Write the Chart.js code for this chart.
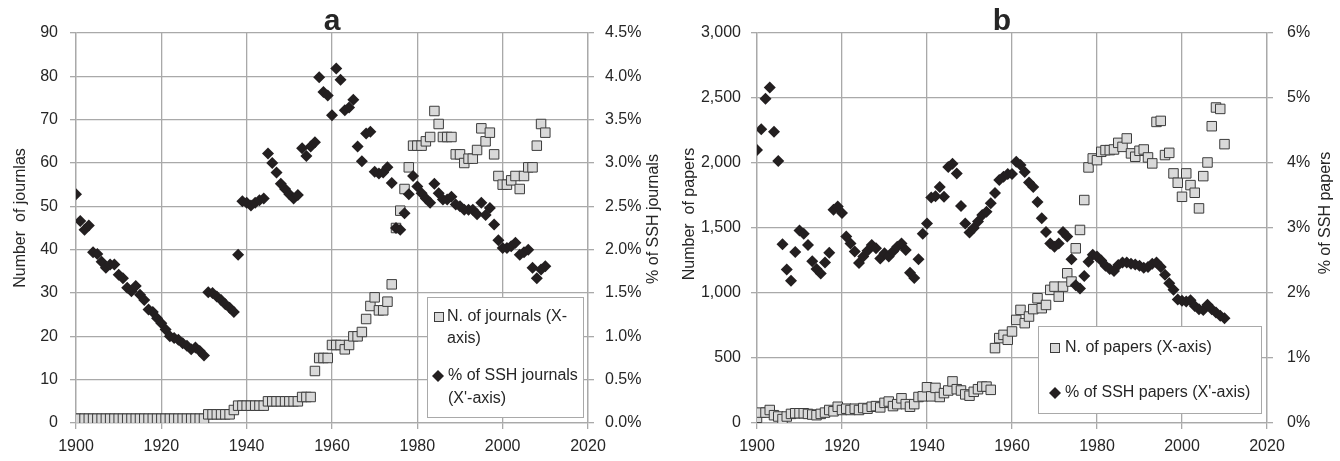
<!DOCTYPE html>
<html>
<head>
<meta charset="utf-8">
<script src="https://cdn.jsdelivr.net/npm/chart.js@4.4.0/dist/chart.umd.min.js"></script>
<style>
  html, body { margin: 0; padding: 0; background: #fff; }
  .panel { position: absolute; top: 0; width: 670px; height: 461px; }
</style>
</head>
<body>
<div class="panel" style="left:0"><canvas id="chartA" width="670" height="461"></canvas></div>
<div class="panel" style="left:670px"><canvas id="chartB" width="670" height="461"></canvas></div>
<script>
const years = [
  1900, 1901, 1902, 1903, 1904, 1905, 1906, 1907, 1908, 1909,
  1910, 1911, 1912, 1913, 1914, 1915, 1916, 1917, 1918, 1919,
  1920, 1921, 1922, 1923, 1924, 1925, 1926, 1927, 1928, 1929,
  1930, 1931, 1932, 1933, 1934, 1935, 1936, 1937, 1938, 1939,
  1940, 1941, 1942, 1943, 1944, 1945, 1946, 1947, 1948, 1949,
  1950, 1951, 1952, 1953, 1954, 1955, 1956, 1957, 1958, 1959,
  1960, 1961, 1962, 1963, 1964, 1965, 1966, 1967, 1968, 1969,
  1970, 1971, 1972, 1973, 1974, 1975, 1976, 1977, 1978, 1979,
  1980, 1981, 1982, 1983, 1984, 1985, 1986, 1987, 1988, 1989,
  1990, 1991, 1992, 1993, 1994, 1995, 1996, 1997, 1998, 1999,
  2000, 2001, 2002, 2003, 2004, 2005, 2006, 2007, 2008, 2009,
  2010
];

// panel a: number of journals (left axis) and % of SSH journals (right axis)
const journals = [
  1, 1, 1, 1, 1, 1, 1, 1, 1, 1,
  1, 1, 1, 1, 1, 1, 1, 1, 1, 1,
  1, 1, 1, 1, 1, 1, 1, 1, 1, 1,
  1, 2, 2, 2, 2, 2, 2, 3, 4, 4,
  4, 4, 4, 4, 4, 5, 5, 5, 5, 5,
  5, 5, 5, 6, 6, 6, 12, 15, 15, 15,
  18, 18, 18, 17, 18, 20, 20, 21, 24, 27,
  29, 26, 26, 28, 32, 45, 49, 54, 59, 64,
  64, 64, 65, 66, 72, 69, 66, 66, 66, 62,
  62, 60, 61, 61, 63, 68, 65, 67, 62, 57,
  55, 55, 56, 57, 54, 57, 59, 59, 64, 69,
  67
];
const journalsShare = [
  2.64, 2.33, 2.23, 2.28, 1.97, 1.95, 1.86, 1.79, 1.83, 1.83,
  1.71, 1.67, 1.56, 1.52, 1.58, 1.48, 1.42, 1.31, 1.28, 1.21,
  1.15, 1.08, 1.00, 0.98, 0.96, 0.92, 0.89, 0.85, 0.87, 0.83,
  0.78, 1.51, 1.50, 1.46, 1.42, 1.37, 1.33, 1.28, 1.94, 2.56,
  2.54, 2.51, 2.54, 2.57, 2.59, 3.11, 3.00, 2.89, 2.76, 2.70,
  2.64, 2.59, 2.63, 3.17, 3.08, 3.19, 3.24, 3.99, 3.82, 3.78,
  3.55, 4.09, 3.96, 3.61, 3.64, 3.73, 3.19, 3.02, 3.34, 3.36,
  2.90, 2.88, 2.89, 2.95, 2.77, 2.25, 2.23, 2.42, 2.64, 2.85,
  2.73, 2.65, 2.59, 2.54, 2.76, 2.65, 2.58, 2.58, 2.61, 2.52,
  2.50, 2.46, 2.46, 2.46, 2.41, 2.54, 2.40, 2.48, 2.29, 2.11,
  2.02, 2.02, 2.04, 2.08, 1.94, 1.97, 2.00, 1.79, 1.67, 1.77,
  1.81
];

// panel b: number of papers (left axis) and % of SSH papers (right axis)
const papers = [
  40, 80, 80, 100, 60, 50, 30, 50, 70, 75,
  75, 75, 70, 65, 60, 70, 80, 100, 90, 125,
  100, 110, 100, 110, 100, 115, 110, 125, 130, 120,
  155, 165, 130, 145, 190, 145, 125, 145, 200, 205,
  275, 205, 270, 200, 230, 250, 320, 260, 250, 220,
  210, 240, 260, 280, 280, 255, 576, 653, 678, 640,
  704, 793, 870, 768, 819, 876, 960, 883, 908, 1024,
  1049, 972, 1049, 1152, 1088, 1344, 1485, 1715, 1966, 2035,
  2022, 2086, 2099, 2099, 2104, 2155, 2124, 2189, 2074, 2048,
  2094, 2104, 2043, 1997, 2316, 2324, 2061, 2078, 1920, 1848,
  1740, 1920, 1830, 1771, 1651, 1899, 2004, 2283, 2427, 2416,
  2145
];
const papersShare = [
  4.20, 4.52, 4.99, 5.16, 4.48, 4.03, 2.75, 2.36, 2.19, 2.63,
  2.96, 2.91, 2.74, 2.49, 2.37, 2.30, 2.47, 2.62, 3.28, 3.33,
  3.23, 2.87, 2.76, 2.64, 2.46, 2.56, 2.65, 2.74, 2.69, 2.53,
  2.61, 2.56, 2.64, 2.71, 2.76, 2.66, 2.31, 2.23, 2.52, 2.91,
  3.07, 3.47, 3.49, 3.63, 3.48, 3.94, 3.99, 3.84, 3.34, 3.07,
  2.93, 3.00, 3.10, 3.20, 3.25, 3.38, 3.54, 3.74, 3.79, 3.83,
  3.83, 4.02, 3.97, 3.86, 3.70, 3.63, 3.40, 3.15, 2.94, 2.76,
  2.71, 2.76, 2.94, 2.87, 2.52, 2.12, 2.07, 2.26, 2.48, 2.59,
  2.56, 2.50, 2.42, 2.37, 2.34, 2.43, 2.47, 2.47, 2.45, 2.44,
  2.42, 2.39, 2.40, 2.45, 2.47, 2.40, 2.28, 2.15, 2.05, 1.90,
  1.88, 1.87, 1.89, 1.80, 1.75, 1.74, 1.82, 1.75, 1.70, 1.65,
  1.61
];

const FONT = "'Liberation Sans', Arial, sans-serif";
const TEXT = '#262626';
const GRID = '#a9a9a9';
const SQUARE_FILL = '#d9d9d9';
const SQUARE_EDGE = '#3c3c3c';
const DIAMOND = '#231f20';

Chart.defaults.font.family = FONT;
Chart.defaults.font.size = 16;
Chart.defaults.color = TEXT;

function toPoints(values) {
  return years.map((yr, i) => ({ x: yr, y: values[i] }));
}

function drawMarker(ctx, kind, x, y) {
  ctx.save();
  if (kind === 'square') {
    ctx.fillStyle = SQUARE_FILL;
    ctx.strokeStyle = SQUARE_EDGE;
    ctx.lineWidth = 1;
    ctx.fillRect(x - 4.5, y - 4.5, 9, 9);
    ctx.strokeRect(x - 4.5, y - 4.5, 9, 9);
  } else {
    ctx.fillStyle = DIAMOND;
    ctx.beginPath();
    ctx.moveTo(x, y - 6);
    ctx.lineTo(x + 6, y);
    ctx.lineTo(x, y + 6);
    ctx.lineTo(x - 6, y);
    ctx.closePath();
    ctx.fill();
  }
  ctx.restore();
}

// panel letter, rotated axis titles and the boxed legend
const overlay = {
  id: 'overlay',
  afterDraw(chart, args, opts) {
    const ctx = chart.ctx;
    ctx.save();
    ctx.fillStyle = TEXT;
    ctx.font = 'bold 30px ' + FONT;
    ctx.textAlign = 'center';
    ctx.textBaseline = 'alphabetic';
    ctx.fillText(opts.title, opts.titleX, 30);

    ctx.font = '16px ' + FONT;
    ctx.textBaseline = 'middle';
    opts.axisTitles.forEach(t => {
      ctx.save();
      ctx.translate(t.x, t.y);
      ctx.rotate(-Math.PI / 2);
      ctx.fillText(t.text, 0, 0);
      ctx.restore();
    });

    const b = opts.legend.box;
    ctx.fillStyle = '#fff';
    ctx.fillRect(b.x, b.y, b.w, b.h);
    ctx.strokeStyle = GRID;
    ctx.lineWidth = 1;
    ctx.strokeRect(b.x + 0.5, b.y + 0.5, b.w, b.h);
    ctx.textAlign = 'left';
    opts.legend.items.forEach(it => {
      drawMarker(ctx, it.marker, it.mx, it.my);
      ctx.fillStyle = TEXT;
      it.lines.forEach((ln, k) => ctx.fillText(ln, it.tx, it.my + k * it.lh));
    });
    ctx.restore();
  }
};

function makePanel(id, p) {
  const gridOpts = { color: GRID, lineWidth: 1.3, tickLength: 6 };
  return new Chart(document.getElementById(id), {
    type: 'scatter',
    data: {
      datasets: [
        {
          label: p.squareLabel,
          data: toPoints(p.counts),
          yAxisID: 'y',
          pointStyle: 'rect',
          pointRadius: 6.7,
          backgroundColor: SQUARE_FILL,
          borderColor: SQUARE_EDGE,
          borderWidth: 1,
          order: 2
        },
        {
          label: p.diamondLabel,
          data: toPoints(p.shares),
          yAxisID: 'y2',
          pointStyle: 'rectRot',
          pointRadius: 6,
          backgroundColor: DIAMOND,
          borderColor: DIAMOND,
          borderWidth: 0,
          order: 1
        }
      ]
    },
    options: {
      responsive: false,
      animation: false,
      layout: { padding: { top: 33, left: 0, right: 0, bottom: 0 } },
      plugins: {
        legend: { display: false },
        tooltip: { enabled: false },
        overlay: p.overlay
      },
      scales: {
        x: {
          type: 'linear',
          min: 1900,
          max: 2020,
          ticks: { stepSize: 20, padding: 8, callback: v => String(v) },
          grid: gridOpts,
          border: { color: GRID, width: 1.3 },
          afterFit: s => { s.height = 38; }
        },
        y: {
          position: 'left',
          min: 0,
          max: p.leftMax,
          ticks: { stepSize: p.leftStep, padding: p.leftPad, callback: p.leftFmt },
          grid: gridOpts,
          border: { color: GRID, width: 1.3 },
          afterFit: s => { s.width = p.leftWidth; }
        },
        y2: {
          position: 'right',
          min: 0,
          max: p.rightMax,
          ticks: { stepSize: p.rightStep, padding: p.rightPad, callback: p.rightFmt },
          grid: { color: GRID, lineWidth: 1.3, tickLength: 6, drawOnChartArea: false },
          border: { color: GRID, width: 1.3 },
          afterFit: s => { s.width = p.rightWidth; }
        }
      }
    },
    plugins: [overlay]
  });
}

makePanel('chartA', {
  counts: journals,
  shares: journalsShare,
  squareLabel: 'N. of journals (X-axis)',
  diamondLabel: "% of SSH journals (X'-axis)",
  leftMax: 90, leftStep: 10, leftPad: 12, leftWidth: 76,
  leftFmt: v => String(v),
  rightMax: 4.5, rightStep: 0.5, rightPad: 11, rightWidth: 82,
  rightFmt: v => v.toFixed(1) + '%',
  overlay: {
    title: 'a', titleX: 332,
    axisTitles: [
      { text: 'Number  of journlas', x: 21, y: 218 },
      { text: '% of SSH journals', x: 654, y: 219 }
    ],
    legend: {
      box: { x: 427, y: 297, w: 156, h: 120 },
      items: [
        { marker: 'square', mx: 439, my: 317, tx: 447, lh: 22, lines: ['N. of journals (X-', 'axis)'] },
        { marker: 'diamond', mx: 438, my: 376, tx: 448, lh: 23, lines: ['% of SSH journals', "(X'-axis)"] }
      ]
    }
  }
});

makePanel('chartB', {
  counts: papers,
  shares: papersShare,
  squareLabel: 'N. of papers (X-axis)',
  diamondLabel: "% of SSH papers (X'-axis)",
  leftMax: 3000, leftStep: 500, leftPad: 10, leftWidth: 87,
  leftFmt: v => v.toLocaleString('en-US'),
  rightMax: 6, rightStep: 1, rightPad: 14, rightWidth: 73,
  rightFmt: v => Math.round(v) + '%',
  overlay: {
    title: 'b', titleX: 332,
    axisTitles: [
      { text: 'Number  of papers', x: 20, y: 214 },
      { text: '% of SSH papers', x: 656, y: 213 }
    ],
    legend: {
      box: { x: 368, y: 326, w: 223, h: 87 },
      items: [
        { marker: 'square', mx: 385, my: 348, tx: 395, lh: 22, lines: ['N. of papers (X-axis)'] },
        { marker: 'diamond', mx: 385, my: 393, tx: 395, lh: 22, lines: ["% of SSH papers (X'-axis)"] }
      ]
    }
  }
});
</script>
</body>
</html>
